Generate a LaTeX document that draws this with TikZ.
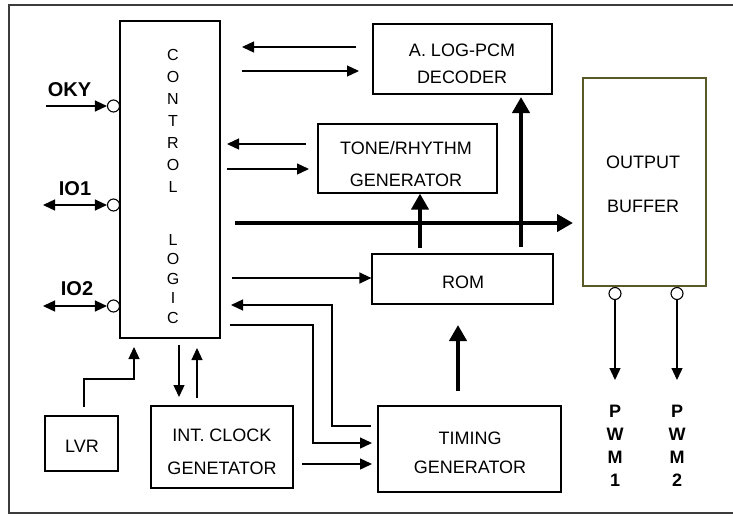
\documentclass[tikz,border=0pt]{standalone}
\usepackage{fontspec}
\setmainfont{Liberation Sans}
\usetikzlibrary{arrows.meta}
\definecolor{olivebox}{RGB}{90,90,40}
\definecolor{framec}{RGB}{60,60,60}
\begin{document}
\begin{tikzpicture}[x=1pt,y=-1pt,
  box/.style={draw, line width=1.2pt, inner sep=0pt, rectangle},
  lbl/.style={inner sep=0pt, font=\fontsize{18}{21}\selectfont, text height=12.9pt, text depth=0pt},
  cllbl/.style={inner sep=0pt, align=center},
  pinlbl/.style={inner sep=0pt, font=\bfseries\fontsize{20}{24}\selectfont, text height=14.3pt, text depth=0pt},
  pwmlbl/.style={inner sep=0pt, align=center, font=\bfseries\fontsize{18}{23}\selectfont},
  thinarr/.style={line width=1.3pt, -{Triangle[length=12pt,width=11pt]}},
  botharr/.style={line width=1.3pt, {Triangle[length=12pt,width=11pt]}-{Triangle[length=12pt,width=11pt]}},
  thickarr/.style={line width=4pt, -{Triangle[length=16pt,width=17pt]}},
  pinc/.style={draw, circle, line width=1.1pt, minimum size=12pt, inner sep=0pt, fill=white},
]
\useasboundingbox (0,0) rectangle (733,515);
% frame
\draw[framec, line width=1.6pt] (733,5) -- (9,5) -- (9,513) -- (733,513);

% boxes
\node[box, minimum width=100pt, minimum height=317pt] (cl) at (170,179.5) {};
\node[box, minimum width=179pt, minimum height=70pt] (dec) at (462.5,59) {};
\node[box, minimum width=179pt, minimum height=69pt] (tone) at (407.5,158.5) {};
\node[box, minimum width=181pt, minimum height=50pt] (rom) at (462.5,279) {};
\node[box, draw=olivebox, minimum width=123pt, minimum height=208pt] (out) at (644.5,182) {};
\node[box, minimum width=183pt, minimum height=86pt] (tim) at (469.5,449) {};
\node[box, minimum width=73pt, minimum height=55pt] (lvr) at (81.5,443.5) {};
\node[box, minimum width=142pt, minimum height=82pt] (int) at (222,447) {};

% box texts
\node[cllbl, font=\fontsize{16}{22}\selectfont] (clt1) at (173,121) {C\\O\\N\\T\\R\\O\\L};
\node[cllbl, font=\fontsize{16}{19.5}\selectfont] (clt2) at (173,279) {L\\O\\G\\I\\C};
\node[lbl] (dect1) at (462,50) {A. LOG-PCM};
\node[lbl] (dect2) at (462,77) {DECODER};
\node[lbl] (tonet1) at (406,148) {TONE/RHYTHM};
\node[lbl] (tonet2) at (406,180) {GENERATOR};
\node[lbl] (outt1) at (643,162) {OUTPUT};
\node[lbl] (outt2) at (643,206) {BUFFER};
\node[lbl] (romt) at (463,282) {ROM};
\node[lbl] (timt1) at (470,438) {TIMING};
\node[lbl] (timt2) at (470,467) {GENERATOR};
\node[lbl] (lvrt) at (82,446) {LVR};
\node[lbl] (intt1) at (222,435) {INT. CLOCK};
\node[lbl] (intt2) at (222,468) {GENETATOR};

% pins on control logic
\node[pinc] (oky) at (113.5,106) {};
\node[pinc] (io1) at (113.5,205) {};
\node[pinc] (io2) at (113.5,306) {};
\node[pinlbl] (okyt) at (69.5,89.5) {OKY};
\node[pinlbl] (io1t) at (75,188) {IO1};
\node[pinlbl] (io2t) at (77,288) {IO2};
\coordinate (okys) at (46,106);
\coordinate (io1s) at (43,205);
\coordinate (io2s) at (43,306);
\draw[thinarr] (okys) -- (oky.west);
\draw[botharr] (io1s) -- (io1.west);
\draw[botharr] (io2s) -- (io2.west);

% pins on output buffer
\node[pinc] (p1) at (615,293.5) {};
\node[pinc] (p2) at (677,293.5) {};
\coordinate (p1e) at (615,380);
\coordinate (p2e) at (677,380);
\draw[thinarr] (p1.south) -- (p1e);
\draw[thinarr] (p2.south) -- (p2e);
\node[pwmlbl] (pwm1) at (615,446) {P\\W\\M\\1};
\node[pwmlbl] (pwm2) at (677,446) {P\\W\\M\\2};

% control logic <-> decoder
\coordinate (a1s) at (356,47); \coordinate (a1e) at (242,47);
\coordinate (a2s) at (242,71); \coordinate (a2e) at (359,71);
\draw[thinarr] (a1s) -- (a1e);
\draw[thinarr] (a2s) -- (a2e);
% control logic <-> tone
\coordinate (b1s) at (306,144); \coordinate (b1e) at (227,144);
\coordinate (b2s) at (227,169); \coordinate (b2e) at (309,169);
\draw[thinarr] (b1s) -- (b1e);
\draw[thinarr] (b2s) -- (b2e);
% bus
\coordinate (bus1) at (235,223); \coordinate (bus2) at (573,223);
\draw[thickarr] (bus1) -- (bus2);
\coordinate (u1s) at (420,248);
\draw[thickarr] (u1s) -- (tone.south -| u1s);
\coordinate (u2s) at (521,247); \coordinate (u2e) at (521,97);
\draw[thickarr] (u2s) -- (u2e);
% control -> rom
\coordinate (r1s) at (232,278);
\draw[thinarr] (r1s) -- (rom.west |- r1s);
% timing -> control (feedback)
\coordinate (f1s) at (371,426); \coordinate (f1e) at (231,305);
\draw[thinarr] (f1s) -- (332,426) -- (332,305) -- (f1e);
% control -> timing
\coordinate (g1s) at (230,325); \coordinate (g1e) at (372,443);
\draw[thinarr] (g1s) -- (313,325) -- (313,443) -- (g1e);
% int clock -> timing
\coordinate (h1s) at (302,464); \coordinate (h1e) at (372,464);
\draw[thinarr] (h1s) -- (h1e);
% timing -> rom
\coordinate (t1s) at (458,391); \coordinate (t1e) at (458,325);
\draw[thickarr] (t1s) -- (t1e);
% lvr -> control
\coordinate (l1s) at (84,407); \coordinate (l1e) at (134,347);
\draw[thinarr] (l1s) -- (84,379) -- (134,379) -- (l1e);
% control <-> int clock
\coordinate (k1s) at (179,345); \coordinate (k1e) at (179,397);
\coordinate (k2s) at (197,398); \coordinate (k2e) at (197,348);
\draw[thinarr] (k1s) -- (k1e);
\draw[thinarr] (k2s) -- (k2e);
\end{tikzpicture}
\end{document}
